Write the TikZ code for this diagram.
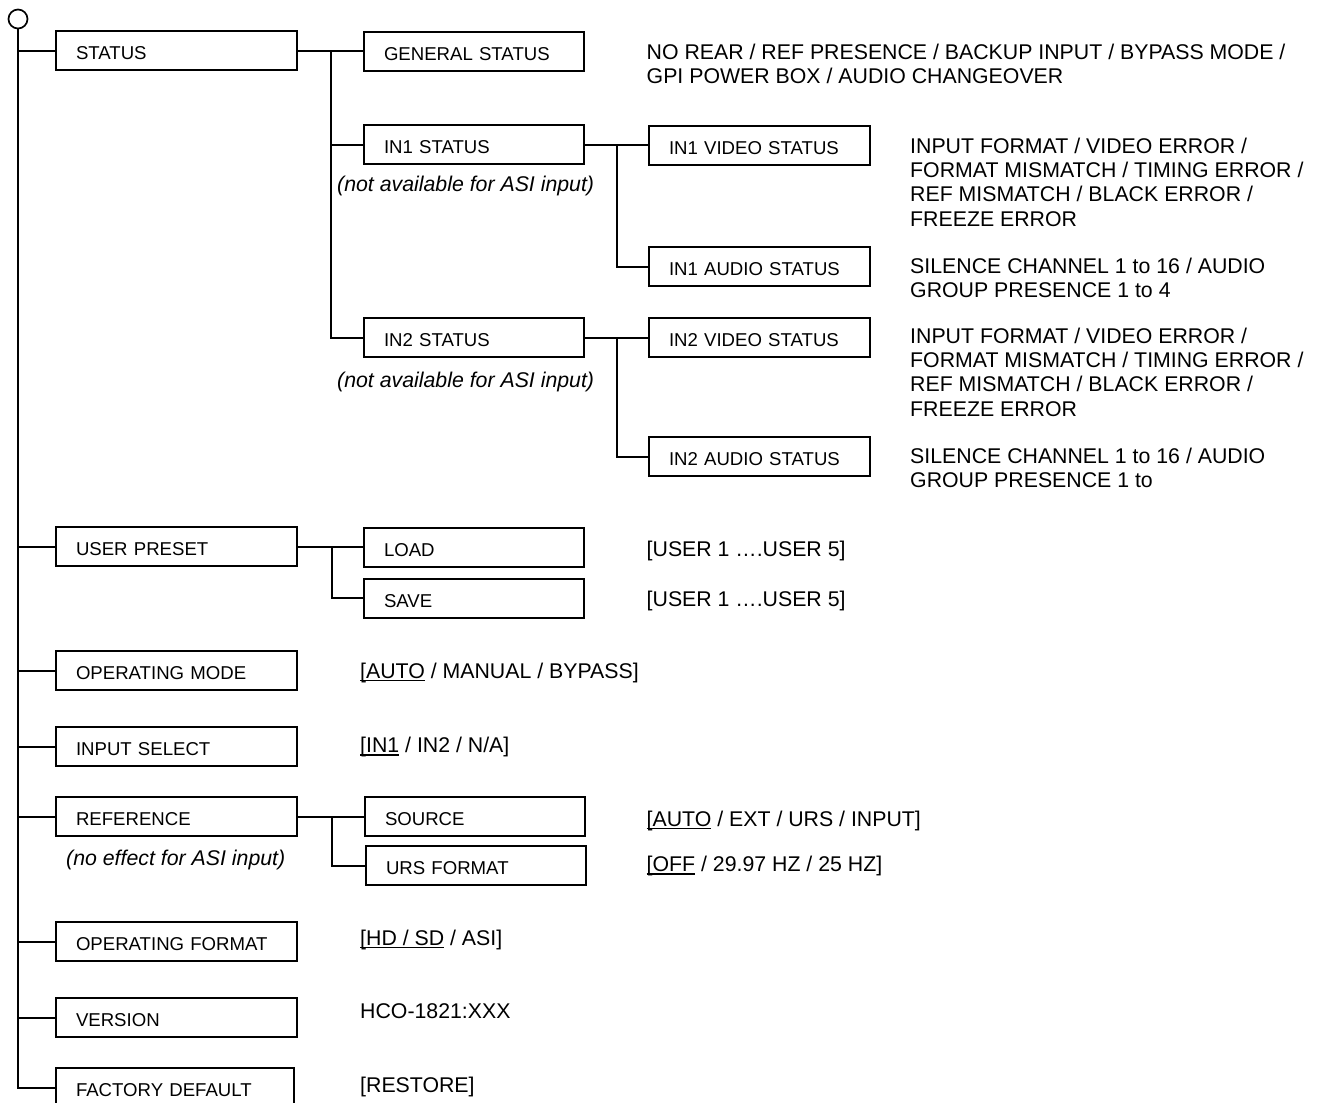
\documentclass[tikz,border=0pt]{standalone}
\usepackage{fontspec}
\setmainfont{Liberation Sans}
\newlength\ulwd
\newcommand\ulx[1]{\settowidth\ulwd{#1}\rlap{\rule[-3pt]{\ulwd}{1.4pt}}#1}
\newcommand\mlines[1]{\vtop{\baselineskip=24.3pt\lineskiplimit=-100pt\lineskip=0pt #1}}
\tikzset{
  box/.style={draw, line width=2pt, anchor=north west, minimum height=39pt,
    inner xsep=20pt, inner ysep=0pt, text height=22pt, text depth=4pt, align=left,
    font=\fontsize{18.6}{22}\selectfont},
  wbox/.style={box, text width=201pt},
  mbox/.style={box, text width=180pt},
  rbox/.style={box, text width=181pt},
  fbox/.style={box, text width=198pt},
  desc/.style={anchor=base west, inner sep=0pt, font=\fontsize{21.3}{24.3}\selectfont},
  note/.style={anchor=base west, inner sep=0pt, font=\fontsize{21.3}{24.3}\selectfont\itshape},
  wire/.style={line width=2pt},
}
\begin{document}
\begin{tikzpicture}[x=1pt,y=-1pt]
\useasboundingbox (0,0) rectangle (1323,1103);
\clip (0,0) rectangle (1323,1103);
\fill[white] (0,0) rectangle (1323,1103);
% root
\node[circle, draw, line width=1.7pt, minimum size=19pt, inner sep=0pt] (top) at (18,19) {};
% level 1 boxes
\node[wbox] (st)  at (55,30)   {STATUS};
\node[wbox] (up)  at (55,526)  {USER PRESET};
\node[wbox] (om)  at (55,650)  {OPERATING MODE};
\node[wbox] (is)  at (55,726)  {INPUT SELECT};
\node[wbox] (ref) at (55,796)  {REFERENCE};
\node[wbox] (of)  at (55,921)  {OPERATING FORMAT};
\node[wbox] (ver) at (55,997)  {VERSION};
\node[fbox] (fd)  at (55,1067) {FACTORY DEFAULT};
% level 2 boxes
\node[mbox] (gs)   at (363,31)    {GENERAL STATUS};
\node[mbox] (in1)  at (363,124)   {IN1 STATUS};
\node[mbox] (in2)  at (363,317)   {IN2 STATUS};
\node[mbox] (load) at (363,527)   {LOAD};
\node[mbox] (save) at (363,577.5) {SAVE};
\node[mbox] (src)  at (364,796)   {SOURCE};
\node[mbox] (urs)  at (365,845)   {URS FORMAT};
% level 3 boxes
\node[rbox] (v1) at (648,125) {IN1 VIDEO STATUS};
\node[rbox] (a1) at (648,246) {IN1 AUDIO STATUS};
\node[rbox] (v2) at (648,317) {IN2 VIDEO STATUS};
\node[rbox] (a2) at (648,436) {IN2 AUDIO STATUS};
% notes
\node[note] (n1) at (337,191) {(not available for ASI input)};
\node[note] (n2) at (337,387) {(not available for ASI input)};
\node[note] (n3) at (66,865)  {(no effect for ASI input)};
% descriptions
\node[desc] (dgs) at (646.5,59) {\mlines{\hbox{NO REAR / REF PRESENCE / BACKUP INPUT / BYPASS MODE /}\hbox{GPI POWER BOX / AUDIO CHANGEOVER}}};
\node[desc] (dv1) at (910,153.3) {\mlines{\hbox{INPUT FORMAT / VIDEO ERROR /}\hbox{FORMAT MISMATCH / TIMING ERROR /}\hbox{REF MISMATCH / BLACK ERROR /}\hbox{FREEZE ERROR}}};
\node[desc] (da1) at (910,273.3) {\mlines{\hbox{SILENCE CHANNEL 1 to 16 / AUDIO}\hbox{GROUP PRESENCE 1 to 4}}};
\node[desc] (dv2) at (910,343.3) {\mlines{\hbox{INPUT FORMAT / VIDEO ERROR /}\hbox{FORMAT MISMATCH / TIMING ERROR /}\hbox{REF MISMATCH / BLACK ERROR /}\hbox{FREEZE ERROR}}};
\node[desc] (da2) at (910,463.3) {\mlines{\hbox{SILENCE CHANNEL 1 to 16 / AUDIO}\hbox{GROUP PRESENCE 1 to}}};
\node[desc] (dload) at (646.5,556) {[USER 1 ….USER 5]};
\node[desc] (dsave) at (646.5,606) {[USER 1 ….USER 5]};
\node[desc] (dom)  at (360,678)    {\ulx{[AUTO} / MANUAL / BYPASS]};
\node[desc] (dis)  at (360,752.5)  {\ulx{[IN1} / IN2 / N/A]};
\node[desc] (dsrc) at (646.5,826)  {\ulx{[AUTO} / EXT / URS / INPUT]};
\node[desc] (durs) at (646.5,871.7){\ulx{[OFF} / 29.97 HZ / 25 HZ]};
\node[desc] (dof)  at (360,945)    {\ulx{[HD / SD} / ASI]};
\node[desc] (dver) at (360,1018.5) {HCO-1821:XXX};
\node[desc] (dfd)  at (360,1092)   {[RESTORE]};
% main trunk
\draw[wire] (top.south) -- (top.south |- fd.west) -- (fd.west);
\foreach \n in {st,up,om,is,ref,of,ver}
  \draw[wire] (top.south |- \n.west) -- (\n.west);
% STATUS branch
\path (st.east) ++(33,0) coordinate (b1);
\draw[wire] (st.east) -- (st.east -| gs.west);
\draw[wire] (b1) |- (in2.west);
\draw[wire] (b1 |- in1.west) -- (in1.west);
% IN1 branch
\path (in1.east) ++(32,0) coordinate (b2);
\draw[wire] (in1.east) -- (in1.east -| v1.west);
\draw[wire] (b2) |- (a1.west);
% IN2 branch
\path (in2.east) ++(32,0) coordinate (b3);
\draw[wire] (in2.east) -- (in2.east -| v2.west);
\draw[wire] (b3) |- (a2.west);
% USER PRESET branch
\path (up.east) ++(34,0) coordinate (b4);
\draw[wire] (up.east) -- (up.east -| load.west);
\draw[wire] (b4) |- (save.west);
% REFERENCE branch
\path (ref.east) ++(34,0) coordinate (b5);
\draw[wire] (ref.east) -- (ref.east -| src.west);
\draw[wire] (b5) |- (urs.west);
\end{tikzpicture}
\end{document}
